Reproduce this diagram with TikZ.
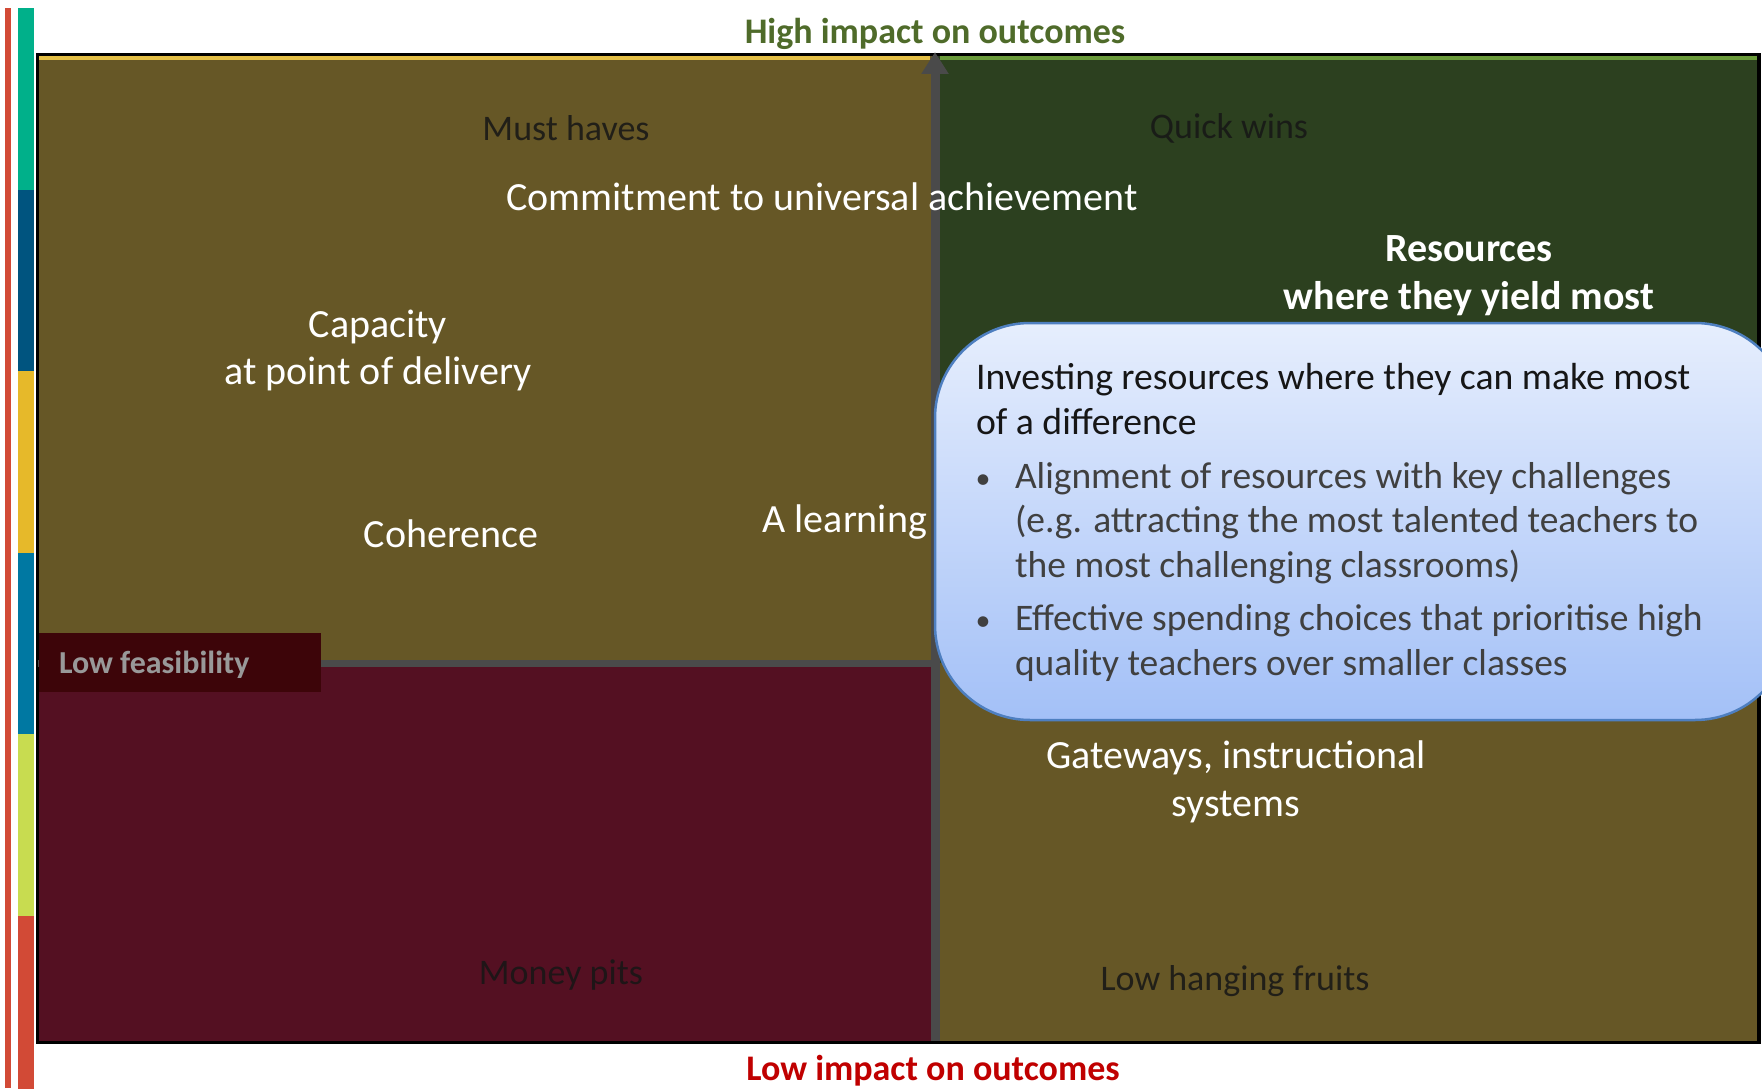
\documentclass[tikz,border=0pt]{standalone}
\usepackage{fontspec}
\setmainfont{Carlito}
\usetikzlibrary{arrows.meta}
\definecolor{barred}{HTML}{D24A36}
\definecolor{cteal}{HTML}{00B08A}
\definecolor{cdblue}{HTML}{00547F}
\definecolor{cyellow}{HTML}{E6B92A}
\definecolor{cblue}{HTML}{0078A2}
\definecolor{clime}{HTML}{C8DC50}
\definecolor{cred}{HTML}{D24A36}
\definecolor{qolive}{HTML}{665726}
\definecolor{qgreen}{HTML}{2C401F}
\definecolor{qred}{HTML}{541022}
\definecolor{lfbox}{HTML}{3D0509}
\definecolor{axgray}{HTML}{4A4A4A}
\definecolor{hiyellow}{HTML}{E3BE45}
\definecolor{higreen}{HTML}{6A9A3A}
\definecolor{titlegreen}{HTML}{4F6B2A}
\definecolor{titlered}{HTML}{C00000}
\definecolor{calltop}{HTML}{E6EEFD}
\definecolor{callbot}{HTML}{A3C0F7}
\definecolor{callborder}{HTML}{4E7FC0}
\definecolor{darktxt}{HTML}{161616}
\definecolor{bultxt}{HTML}{404040}
\tikzset{
  every node/.style={inner sep=0pt, outer sep=0pt},
  whitelbl/.style={font=\fontsize{40}{48}\selectfont, text=white},
  darklbl/.style={font=\fontsize{36}{43}\selectfont, text=darktxt, opacity=0.85},
  boldlbl/.style={font=\bfseries\fontsize{40}{48}\selectfont, text=white},
  axlbl/.style={font=\bfseries\fontsize{36}{43}\selectfont},
  calltxt/.style={font=\fontsize{37.7}{45}\selectfont, text=darktxt, anchor=base west},
  bultext/.style={font=\fontsize{37.5}{45}\selectfont, text=bultxt, anchor=base west},
  bulmark/.style={font=\fontsize{30}{36}\selectfont, text=bultxt, anchor=base},
}
\begin{document}
\begin{tikzpicture}[x=1pt,y=-1pt]
\useasboundingbox (0,0) rectangle (1762,1089);
\fill[white] (0,0) rectangle (1762,1089);
% left bars
\fill[barred] (5,8) rectangle (11,1088);
\fill[cteal]  (18,8)   rectangle (34,189.5);
\fill[cdblue] (18,189.5) rectangle (34,371);
\fill[cyellow](18,371)   rectangle (34,552.5);
\fill[cblue]  (18,552.5) rectangle (34,734);
\fill[clime]  (18,734)   rectangle (34,915.5);
\fill[cred]   (18,915.5) rectangle (34,1089);
% quadrants
\fill[qolive] (38,56) rectangle (935,663);
\fill[qgreen] (935,56) rectangle (1757,697);
\fill[qred]   (38,663) rectangle (935,1041);
\fill[qolive] (935,663) rectangle (1740,1041);
\fill[qolive] (935,697) rectangle (1757,1041);
\fill[hiyellow] (38,56) rectangle (930,60);
\fill[higreen]  (940,56) rectangle (1757,60);
% frame
\draw[black, line width=3.5] (37.5,54.5) rectangle (1759,1042.5);
% axes
\coordinate (hl) at (38,663);
\coordinate (hr) at (935,663);
\coordinate (axb) at (935,1041);
\coordinate (axt) at (935,52);
\draw[axgray, line width=7] (hl) -- (hr);
\draw[axgray, line width=9, -{Triangle[width=26pt,length=22pt]}] (axb) -- (axt);
% low feasibility
\fill[lfbox] (39,633) rectangle (321,692);
\node[anchor=base west, font=\bfseries\fontsize{32}{38}\selectfont, text=black!40] (lowfeas) at (59,673) {Low feasibility};
% axis titles
\node[axlbl, text=titlegreen, anchor=base] (high) at (935,44) {High impact on outcomes};
\node[axlbl, text=titlered, anchor=base] (low) at (933,1080) {Low impact on outcomes};
% quadrant labels
\node[darklbl, anchor=base] (must) at (566,141) {Must haves};
\node[darklbl, anchor=base] (quick) at (1229,139) {Quick wins};
\node[darklbl, anchor=base] (money) at (561,984) {Money pits};
\node[darklbl, anchor=base] (lowhang) at (1235,990) {Low hanging fruits};
% white labels
\node[whitelbl, anchor=base] (commit) at (822,211) {Commitment to universal achievement};
\node[boldlbl, anchor=base] (res1) at (1469,261) {Resources};
\node[boldlbl, anchor=base] (res2) at (1469,309) {where they yield most};
\node[whitelbl, anchor=base] (cap1) at (378,337) {Capacity};
\node[whitelbl, anchor=base] (cap2) at (378,384) {at point of delivery};
\node[whitelbl, anchor=base] (coh) at (451,547) {Coherence};
\node[whitelbl, anchor=base east] (learn) at (927,532) {A learning};
\node[whitelbl, anchor=base] (gate1) at (1236,768) {Gateways, instructional};
\node[whitelbl, anchor=base] (gate2) at (1236,816) {systems};
% callout
\shade[top color=calltop, bottom color=callbot, draw=callborder, line width=2.5, rounded corners=95] (935,323) rectangle (1790,720);
\node[calltxt] (c1) at (976,389) {Investing resources where they can make most};
\node[calltxt] (c2) at (976,434) {of a difference};
\node[bulmark] (b1) at (983,488) {•};
\node[bultext] (b1a) at (1015,488) {Alignment of resources with key challenges};
\node[bultext] (b1b) at (1015,532) {(e.g. attracting the most talented teachers to};
\node[bultext] (b1c) at (1015,577) {the most challenging classrooms)};
\node[bulmark] (b2) at (983,630) {•};
\node[bultext] (b2a) at (1015,630) {Effective spending choices that prioritise high};
\node[bultext] (b2b) at (1015,675) {quality teachers over smaller classes};
\end{tikzpicture}
\end{document}
